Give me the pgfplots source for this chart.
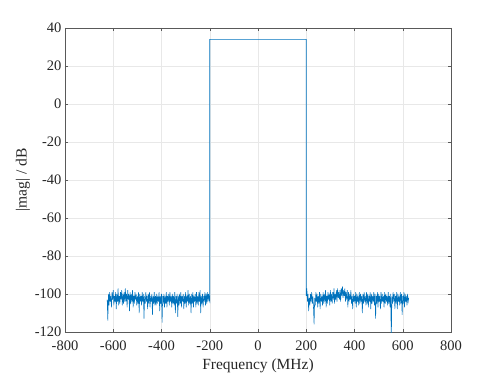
\documentclass[border=0pt]{standalone}
\usepackage{fontspec}
\setmainfont{Liberation Serif}
\usepackage{pgfplots}
\pgfplotsset{compat=1.18}
\definecolor{mblue}{rgb}{0,0.447,0.741}
\begin{document}
\begin{tikzpicture}
\begin{axis}[
  scale only axis, width=386pt, height=304pt,
  xmin=-800, xmax=800, ymin=-120, ymax=40,
  xtick={-800,-600,...,800}, ytick={-120,-100,...,40},
  grid=major, major grid style={gray!18, line width=0.4pt},
  axis line style={black!65, line width=0.5pt},
  tick style={black!65}, tick align=inside, major tick length=3pt,
  tick label style={font=\fontsize{14.5}{16}\selectfont, black!85},
  xticklabel style={yshift=-5pt},
  /pgf/number format/assume math mode=true,
  xlabel={Frequency (MHz)}, ylabel={|mag| / dB},
  label style={font=\fontsize{15.5}{18}\selectfont, black!85},
  xlabel style={yshift=-2pt}, ylabel style={yshift=-2pt},
]
\addplot[mblue, line width=0.55pt] coordinates {
(-625,-103) (-622.5,-114) (-620,-100) (-617.5,-106) (-615,-99) (-612.5,-104) (-610,-101) (-607.5,-107) (-605,-99) (-602.5,-103)
(-600,-98) (-597.5,-106) (-595,-101) (-592.5,-104) (-590,-99) (-587.5,-108) (-585,-100) (-582.5,-104) (-580,-97) (-577.5,-106)
(-575,-101) (-572.5,-105) (-570,-99) (-567.5,-103) (-565,-98) (-562.5,-106) (-560,-100) (-557.5,-105) (-555,-99) (-552.5,-104)
(-550,-97) (-547.5,-104) (-545,-100) (-542.5,-107) (-540,-98) (-537.5,-103) (-535,-100) (-532.5,-109) (-530,-99) (-527.5,-105)
(-525,-100) (-522.5,-104) (-520,-98) (-517.5,-107) (-515,-101) (-512.5,-105) (-510,-99) (-507.5,-103) (-505,-100) (-502.5,-106)
(-500,-101) (-497.5,-105) (-495,-99) (-492.5,-110) (-490,-100) (-487.5,-104) (-485,-101) (-482.5,-106) (-480,-99) (-477.5,-104)
(-475,-100) (-472.5,-113) (-470,-101) (-467.5,-105) (-465,-99) (-462.5,-104) (-460,-101) (-457.5,-108) (-455,-100) (-452.5,-105)
(-450,-99) (-447.5,-107) (-445,-101) (-442.5,-104) (-440,-100) (-437.5,-111) (-435,-101) (-432.5,-105) (-430,-99) (-427.5,-106)
(-425,-101) (-422.5,-106) (-420,-100) (-417.5,-105) (-415,-101) (-412.5,-104) (-410,-99) (-407.5,-109) (-405,-101) (-402.5,-105)
(-400,-100) (-397.5,-115) (-395,-101) (-392.5,-105) (-390,-100) (-387.5,-107) (-385,-101) (-382.5,-105) (-380,-99) (-377.5,-107)
(-375,-101) (-372.5,-104) (-370,-100) (-367.5,-106) (-365,-99) (-362.5,-104) (-360,-101) (-357.5,-107) (-355,-100) (-352.5,-105)
(-350,-101) (-347.5,-106) (-345,-99) (-342.5,-110) (-340,-101) (-337.5,-105) (-335,-100) (-332.5,-112) (-330,-101) (-327.5,-106)
(-325,-100) (-322.5,-105) (-320,-99) (-317.5,-107) (-315,-101) (-312.5,-104) (-310,-100) (-307.5,-108) (-305,-101) (-302.5,-105)
(-300,-99) (-297.5,-107) (-295,-101) (-292.5,-104) (-290,-98) (-287.5,-106) (-285,-100) (-282.5,-105) (-280,-101) (-277.5,-110)
(-275,-100) (-272.5,-105) (-270,-99) (-267.5,-107) (-265,-101) (-262.5,-104) (-260,-100) (-257.5,-107) (-255,-99) (-252.5,-105)
(-250,-101) (-247.5,-106) (-245,-99) (-242.5,-104) (-240,-98) (-237.5,-110) (-235,-101) (-232.5,-105) (-230,-100) (-227.5,-107)
(-225,-101) (-222.5,-104) (-220,-99) (-217.5,-106) (-215,-100) (-212.5,-105) (-210,-99) (-207.5,-104) (-205,-100) (-202.5,-103)
(-200,-104)
(-200,34) (200,34)
(200,-101) (202.5,-97) (205,-104) (207.5,-100) (210,-109) (212.5,-102) (215,-106) (217.5,-100) (220,-104) (222.5,-99)
(225,-105) (227.5,-101) (230,-107) (232.5,-116) (235,-102) (237.5,-106) (240,-99) (242.5,-104) (245,-100) (247.5,-107)
(250,-101) (252.5,-105) (255,-99) (257.5,-108) (260,-100) (262.5,-104) (265,-101) (267.5,-106) (270,-99) (272.5,-105)
(275,-100) (277.5,-104) (280,-98) (282.5,-107) (285,-101) (287.5,-105) (290,-99) (292.5,-103) (295,-100) (297.5,-106)
(300,-98) (302.5,-104) (305,-100) (307.5,-105) (310,-99) (312.5,-103) (315,-97) (317.5,-105) (320,-100) (322.5,-103)
(325,-98) (327.5,-104) (330,-97) (332.5,-102) (335,-99) (337.5,-103) (340,-98) (342.5,-104) (345,-97) (347.5,-101)
(350,-96) (352.5,-102) (355,-98) (357.5,-101) (360,-97) (362.5,-104) (365,-99) (367.5,-103) (370,-98) (372.5,-107)
(375,-99) (377.5,-104) (380,-100) (382.5,-103) (385,-98) (387.5,-105) (390,-101) (392.5,-108) (395,-100) (397.5,-104)
(400,-101) (402.5,-105) (405,-99) (407.5,-107) (410,-100) (412.5,-104) (415,-101) (417.5,-106) (420,-99) (422.5,-105)
(425,-100) (427.5,-104) (430,-101) (432.5,-110) (435,-100) (437.5,-105) (440,-99) (442.5,-104) (445,-101) (447.5,-106)
(450,-99) (452.5,-105) (455,-100) (457.5,-107) (460,-101) (462.5,-104) (465,-99) (467.5,-108) (470,-100) (472.5,-105)
(475,-101) (477.5,-104) (480,-99) (482.5,-106) (485,-100) (487.5,-113) (490,-101) (492.5,-105) (495,-99) (497.5,-107)
(500,-100) (502.5,-104) (505,-101) (507.5,-108) (510,-99) (512.5,-105) (515,-100) (517.5,-104) (520,-101) (522.5,-107)
(525,-99) (527.5,-105) (530,-100) (532.5,-104) (535,-101) (537.5,-106) (540,-99) (542.5,-105) (545,-101) (547.5,-107)
(550,-100) (552.5,-125) (555,-101) (557.5,-105) (560,-99) (562.5,-104) (565,-100) (567.5,-108) (570,-101) (572.5,-105)
(575,-99) (577.5,-108) (580,-100) (582.5,-104) (585,-101) (587.5,-106) (590,-99) (592.5,-105) (595,-100) (597.5,-111)
(600,-101) (602.5,-105) (605,-99) (607.5,-107) (610,-100) (612.5,-104) (615,-101) (617.5,-106) (620,-100) (622.5,-104)
(625,-102)
};
\end{axis}
\path (-65pt,-42pt) rectangle (433pt,332pt);
\end{tikzpicture}
\end{document}
